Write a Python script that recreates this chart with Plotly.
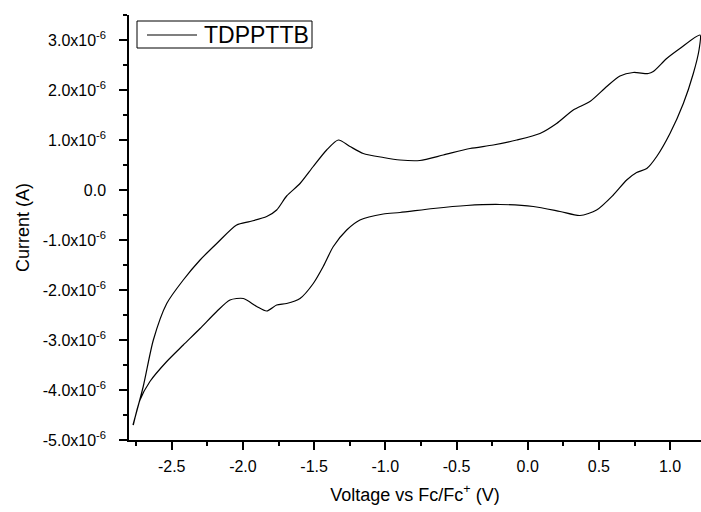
import plotly.graph_objects as go

# Forward (upper) scan: voltage (V) and current (µA)
fwd_v = [-2.772, -2.700, -2.629, -2.535, -2.419, -2.301, -2.184, -2.044, -1.950, -1.833,
         -1.763, -1.693, -1.599, -1.506, -1.412, -1.330, -1.248, -1.155, -1.014, -0.897,
         -0.757, -0.593, -0.405, -0.242, -0.077, 0.086, 0.203, 0.320, 0.437, 0.555,
         0.648, 0.741, 0.847, 0.882, 0.976, 1.069, 1.210]
fwd_i = [-4.70, -3.93, -3.00, -2.27, -1.80, -1.40, -1.07, -0.70, -0.63, -0.53,
         -0.40, -0.12, 0.13, 0.47, 0.80, 1.00, 0.87, 0.73, 0.65, 0.60,
         0.59, 0.70, 0.83, 0.90, 1.00, 1.13, 1.33, 1.60, 1.77, 2.07,
         2.28, 2.35, 2.33, 2.37, 2.63, 2.83, 3.10]

# Reverse (lower) scan
rev_v = [1.203, 1.163, 1.093, 0.999, 0.906, 0.836, 0.765, 0.695, 0.601, 0.484,
         0.367, 0.227, 0.039, -0.195, -0.429, -0.663, -0.897, -1.014, -1.178, -1.271,
         -1.365, -1.436, -1.506, -1.599, -1.693, -1.763, -1.833, -1.903, -1.997, -2.091,
         -2.184, -2.301, -2.419, -2.535, -2.653, -2.723, -2.770]
rev_i = [2.80, 2.33, 1.73, 1.13, 0.67, 0.43, 0.35, 0.20, -0.10, -0.40,
         -0.51, -0.43, -0.33, -0.29, -0.31, -0.37, -0.45, -0.48, -0.60, -0.80,
         -1.13, -1.53, -1.87, -2.17, -2.27, -2.30, -2.42, -2.33, -2.17, -2.20,
         -2.43, -2.77, -3.10, -3.43, -3.83, -4.20, -4.70]

series_name = "TDPPTTB"

y_tick_vals = [-5, -4, -3, -2, -1, 0, 1, 2, 3]
y_tick_text = ["-5.0x10<sup>-6</sup>", "-4.0x10<sup>-6</sup>", "-3.0x10<sup>-6</sup>",
               "-2.0x10<sup>-6</sup>", "-1.0x10<sup>-6</sup>", "0.0",
               "1.0x10<sup>-6</sup>", "2.0x10<sup>-6</sup>", "3.0x10<sup>-6</sup>"]
y_minor_vals = [-4.5, -3.5, -2.5, -1.5, -0.5, 0.5, 1.5, 2.5, 3.5]
x_tick_vals = [-2.5, -2.0, -1.5, -1.0, -0.5, 0.0, 0.5, 1.0]
x_tick_text = ["-2.5", "-2.0", "-1.5", "-1.0", "-0.5", "0.0", "0.5", "1.0"]

scale = 1e-6
xs = fwd_v + rev_v
ys = [v * scale for v in fwd_i + rev_i]

FONT = "Liberation Sans, Arial, sans-serif"

# plot area geometry (px) used to place the hand-drawn legend box in paper coords
L, R, T, B = 129, 701, 15, 440
def px(xp):
    return (xp - L) / (R - L)
def py(yp):
    return (B - yp) / (B - T)

fig = go.Figure()
fig.add_trace(go.Scatter(
    x=xs, y=ys, mode="lines", name=series_name, showlegend=False,
    line=dict(color="black", width=1.2, shape="spline", smoothing=0.7),
))

# legend box (Origin style): frame, line sample and label
fig.add_shape(type="rect", xref="paper", yref="paper",
              x0=px(137), x1=px(312), y0=py(48), y1=py(21),
              line=dict(color="black", width=1), fillcolor="white", layer="above")
fig.add_shape(type="line", xref="paper", yref="paper",
              x0=px(147), x1=px(197), y0=py(35), y1=py(35),
              line=dict(color="black", width=1.2), layer="above")
fig.add_annotation(xref="paper", yref="paper", x=px(202), y=py(35),
                   xanchor="left", yanchor="middle", showarrow=False,
                   text=series_name, font=dict(size=23, family=FONT, color="black"))

fig.update_layout(
    width=701, height=512,
    margin=dict(l=L, r=701 - R, t=T, b=512 - B),
    paper_bgcolor="white", plot_bgcolor="white",
    font=dict(family=FONT, color="black", size=16),
    showlegend=False,
    xaxis=dict(
        range=[-2.8, 1.217], showgrid=False, zeroline=False,
        showline=True, linecolor="black", linewidth=1.5,
        ticks="outside", ticklen=8, tickwidth=1.5, tickcolor="black",
        tickmode="array", tickvals=x_tick_vals, ticktext=x_tick_text,
        tickfont=dict(size=16, family=FONT),
        minor=dict(ticks="outside", ticklen=4, tickwidth=1.5, tickcolor="black",
                   dtick=0.25, tick0=0, showgrid=False),
        title=dict(text="Voltage vs Fc/Fc<sup>+</sup> (V)", font=dict(size=18, family=FONT), standoff=14),
        ticklabelstandoff=3,
    ),
    yaxis=dict(
        range=[-5e-6, 3.5e-6], showgrid=False, zeroline=False,
        showline=True, linecolor="black", linewidth=1.5,
        ticks="outside", ticklen=8, tickwidth=1.5, tickcolor="black",
        tickmode="array", tickvals=[v * scale for v in y_tick_vals], ticktext=y_tick_text,
        tickfont=dict(size=16, family=FONT),
        minor=dict(ticks="outside", ticklen=4, tickwidth=1.5, tickcolor="black",
                   tickmode="array", tickvals=[v * scale for v in y_minor_vals], showgrid=False),
        title=dict(text="Current (A)", font=dict(size=18, family=FONT), standoff=8),
        ticklabelstandoff=10,
    ),
)

fig.write_html("out.html", config={"displayModeBar": False},
               post_script="document.body.style.margin='0';document.body.style.overflow='hidden';")
